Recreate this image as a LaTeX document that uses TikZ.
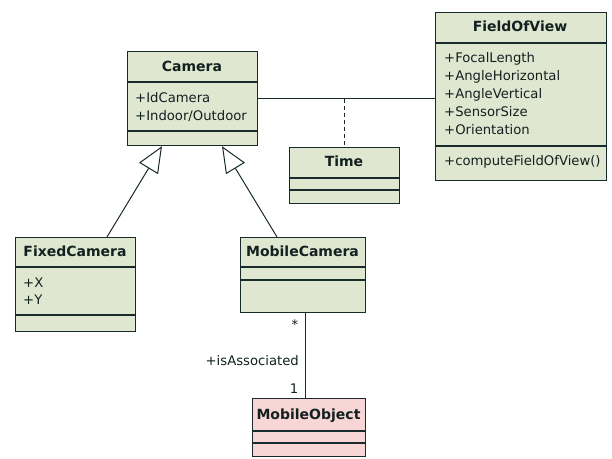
\documentclass[tikz,border=0pt]{standalone}
\usepackage{fontspec}
\setmainfont{DejaVu Sans}
\usetikzlibrary{arrows.meta}
\definecolor{clsgreen}{RGB}{224,231,208}
\definecolor{clspink}{RGB}{249,214,214}
\definecolor{clsline}{RGB}{25,42,42}
\definecolor{clstext}{RGB}{18,32,32}
\tikzset{
  cls/.style={draw=clsline, line width=1.2bp, rectangle, anchor=north west, inner sep=0pt},
  sep/.style={draw=clsline, line width=1.1bp},
  ttl/.style={anchor=base, font=\fontsize{14bp}{16bp}\selectfont\bfseries, text=clstext, inner sep=0pt},
  attr/.style={anchor=base west, font=\fontsize{13.2bp}{16bp}\selectfont, text=clstext, inner sep=0pt},
  lbl/.style={font=\fontsize{13.2bp}{16bp}\selectfont, text=clstext, inner sep=0pt},
  conn/.style={draw=clsline, line width=1bp},
  gen/.style={conn, -{Triangle[open, length=26bp, width=22bp, line width=1bp]}},
}
\begin{document}
\begin{tikzpicture}[x=1bp, y=-1bp]
\useasboundingbox (0,0) rectangle (612,459);
% Camera
\node[cls, fill=clsgreen, minimum width=130bp, minimum height=94bp] (camera) at (127,51) {};
\draw[sep] (camera.west |- 0,82) -- (camera.east |- 0,82);
\draw[sep] (camera.west |- 0,131) -- (camera.east |- 0,131);
\node[ttl] (cameraT) at (192,72) {Camera};
\node[attr] (cameraA1) at (135,103) {+IdCamera};
\node[attr] (cameraA2) at (135,121) {+Indoor/Outdoor};
% FieldOfView
\node[cls, fill=clsgreen, minimum width=171bp, minimum height=168bp] (fov) at (435,12) {};
\draw[sep] (fov.west |- 0,43) -- (fov.east |- 0,43);
\draw[sep] (fov.west |- 0,146) -- (fov.east |- 0,146);
\node[ttl] (fovT) at (520,32) {FieldOfView};
\node[attr] (fovA1) at (444,63) {+FocalLength};
\node[attr] (fovA2) at (444,81) {+AngleHorizontal};
\node[attr] (fovA3) at (444,99) {+AngleVertical};
\node[attr] (fovA4) at (444,117) {+SensorSize};
\node[attr] (fovA5) at (444,135) {+Orientation};
\node[attr] (fovM1) at (444,166) {+computeFieldOfView()};
% Time
\node[cls, fill=clsgreen, minimum width=110bp, minimum height=56bp] (time) at (289,147) {};
\draw[sep] (time.west |- 0,178) -- (time.east |- 0,178);
\draw[sep] (time.west |- 0,190) -- (time.east |- 0,190);
\node[ttl] (timeT) at (344,167) {Time};
% FixedCamera
\node[cls, fill=clsgreen, minimum width=120bp, minimum height=94bp] (fixed) at (15,237) {};
\draw[sep] (fixed.west |- 0,267) -- (fixed.east |- 0,267);
\draw[sep] (fixed.west |- 0,315) -- (fixed.east |- 0,315);
\node[ttl] (fixedT) at (75,257) {FixedCamera};
\node[attr] (fixedA1) at (23,288) {+X};
\node[attr] (fixedA2) at (23,305) {+Y};
% MobileCamera
\node[cls, fill=clsgreen, minimum width=125bp, minimum height=75bp] (mcam) at (240,237) {};
\draw[sep] (mcam.west |- 0,267) -- (mcam.east |- 0,267);
\draw[sep] (mcam.west |- 0,280) -- (mcam.east |- 0,280);
\node[ttl] (mcamT) at (302.5,257) {MobileCamera};
% MobileObject
\node[cls, fill=clspink, minimum width=113bp, minimum height=58bp] (mobj) at (252,398) {};
\draw[sep] (mobj.west |- 0,431) -- (mobj.east |- 0,431);
\draw[sep] (mobj.west |- 0,443) -- (mobj.east |- 0,443);
\node[ttl] (mobjT) at (308.5,419) {MobileObject};
% Connectors
\draw[conn] (camera.east) -- (camera.east -| fov.west);
\coordinate (tjoin) at (time.north |- camera.east);
\draw[conn, dashed, dash pattern=on 4bp off 3bp] (tjoin) -- (time.north);
\draw[gen] ([xshift=92bp]fixed.north west) -- ([xshift=35bp]camera.south west);
\draw[gen] ([xshift=37bp]mcam.north west) -- ([xshift=95bp]camera.south west);
\draw[conn] (mcam.south -| 305,0) -- (mobj.north -| 305,0);
\node[lbl] (mult1) at (295,325) {*};
\node[lbl, anchor=base east] (role) at (299,365) {+isAssociated};
\node[lbl, anchor=base] (mult2) at (294,393) {1};
\end{tikzpicture}
\end{document}
